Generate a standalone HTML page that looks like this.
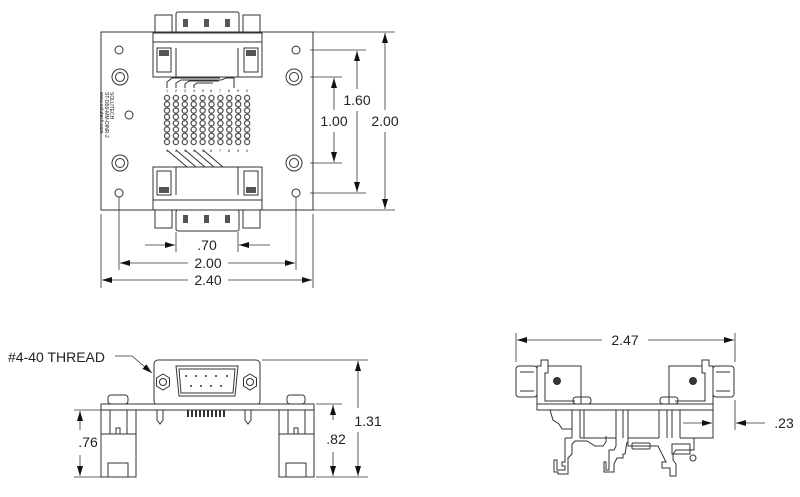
<!DOCTYPE html>
<html><head><meta charset="utf-8"><style>
html,body{margin:0;padding:0;background:#fff}
svg{display:block}
text{font-family:"Liberation Sans",sans-serif;fill:#222}
</style></head><body>
<svg width="800" height="497" viewBox="0 0 800 497" xmlns="http://www.w3.org/2000/svg">
<defs>
<marker id="a" viewBox="0 0 10 6" refX="10" refY="3" markerWidth="10" markerHeight="6" orient="auto-start-reverse" markerUnits="userSpaceOnUse"><path d="M0,0L10,3L0,6z" fill="#111"/></marker>
</defs>
<g fill="none" stroke="#333" stroke-width="1">
<!-- TOP VIEW -->
<rect x="101" y="32" width="212" height="178" fill="#fff"/>
<rect x="176" y="12" width="63" height="21" rx="2"/>
<rect x="155" y="15" width="17" height="18"/><rect x="243" y="15" width="17" height="18"/>
<rect x="153" y="33" width="109" height="44" fill="#fff"/>
<line x1="153" y1="42" x2="262" y2="42"/>
<rect x="157" y="48" width="14" height="24"/><rect x="244" y="48" width="14" height="24"/>
<line x1="176" y1="48" x2="176" y2="77"/><line x1="238" y1="48" x2="238" y2="77"/>
<rect x="176" y="210" width="63" height="21" rx="2"/>
<rect x="155" y="210" width="17" height="18"/><rect x="243" y="210" width="17" height="18"/>
<rect x="153" y="167" width="109" height="43" fill="#fff"/>
<line x1="153" y1="200" x2="262" y2="200"/>
<rect x="157" y="171" width="14" height="24"/><rect x="244" y="171" width="14" height="24"/>
<line x1="176" y1="167" x2="176" y2="195"/><line x1="238" y1="167" x2="238" y2="195"/>
<g fill="#555" stroke="none">
<rect x="183" y="19" width="5" height="8"/><rect x="204" y="19" width="5" height="8"/><rect x="225" y="19" width="5" height="8"/>
<rect x="183" y="215" width="5" height="8"/><rect x="204" y="215" width="5" height="8"/><rect x="225" y="215" width="5" height="8"/>
<rect x="159" y="50" width="10" height="6"/><rect x="246" y="50" width="10" height="6"/>
<rect x="159" y="187" width="10" height="6"/><rect x="246" y="187" width="10" height="6"/>
</g>
<circle cx="119" cy="50" r="4"/><circle cx="296" cy="50" r="4"/><circle cx="119" cy="193" r="4"/><circle cx="296" cy="193" r="4"/>
<circle cx="120" cy="77" r="8"/><circle cx="120" cy="77" r="4.5"/>
<circle cx="120" cy="163" r="8"/><circle cx="120" cy="163" r="4.5"/>
<circle cx="294" cy="77" r="8"/><circle cx="294" cy="77" r="4.5"/>
<circle cx="294" cy="163" r="8"/><circle cx="294" cy="163" r="4.5"/>
<path d="M167,88 v-6 l5,-4 h48 M176,88 v-5 l5,-3 h40 l5,-2 h8 v10 M185,88 v-4 l4,-3 h30 M194,88 v-3 l3,-2 h16"/>
<path d="M167,150 l20,17 M176,150 l20,17 M185,150 l20,17 M194,150 l20,17 M203,150 l20,17"/>
</g>
<g fill="#fff" stroke="#555" stroke-width="1.3">
<g id="col">
<circle cx="167" cy="98" r="2.6"/><circle cx="167" cy="104.3" r="2.6"/><circle cx="167" cy="110.6" r="2.6"/><circle cx="167" cy="116.9" r="2.6"/><circle cx="167" cy="123.2" r="2.6"/><circle cx="167" cy="129.5" r="2.6"/><circle cx="167" cy="135.8" r="2.6"/><circle cx="167" cy="142" r="2.6"/>
</g>
<use href="#col" x="8.9"/><use href="#col" x="17.8"/><use href="#col" x="26.7"/><use href="#col" x="35.6"/><use href="#col" x="44.5"/><use href="#col" x="53.4"/><use href="#col" x="62.3"/><use href="#col" x="71.2"/><use href="#col" x="80.1"/>
</g>
<g font-size="4" text-anchor="middle">
<text x="167" y="92">1</text><text x="176" y="92">2</text><text x="185" y="92">3</text><text x="194" y="92">4</text><text x="203" y="92">5</text><text x="211" y="92">6</text><text x="220" y="92">7</text><text x="229" y="92">8</text><text x="238" y="92">9</text><text x="247" y="92">0</text>
<text x="167" y="152">1</text><text x="176" y="152">2</text><text x="185" y="152">3</text><text x="194" y="152">4</text><text x="203" y="152">5</text><text x="211" y="152">6</text><text x="220" y="152">7</text><text x="229" y="152">8</text><text x="238" y="152">9</text><text x="247" y="152">0</text>
</g>
<text font-size="5" transform="translate(110,92) rotate(90)">SOLUTECH</text>
<text font-size="5" transform="translate(105,92) rotate(90)">ST-DB9-MM-DINR-2</text>
<text font-size="5" transform="translate(100,92) rotate(90)">www.solutech.com</text>
<circle cx="129" cy="115" r="4" fill="none" stroke="#333"/>
<!-- top dims -->
<g stroke="#333" stroke-width="0.8" fill="none">
<path d="M303,32H395M310,50H366M310,77H342M303,210H395M310,193H366M310,163H342"/>
<path d="M101,214V288M313,214V288M119,197V270M296,197V270M176,232V252M238,232V252"/>
<line x1="385" y1="110" x2="385" y2="33" marker-end="url(#a)"/><line x1="385" y1="132" x2="385" y2="209" marker-end="url(#a)"/>
<line x1="357" y1="89" x2="357" y2="51" marker-end="url(#a)"/><line x1="357" y1="111" x2="357" y2="192" marker-end="url(#a)"/>
<line x1="334" y1="110" x2="334" y2="78" marker-end="url(#a)"/><line x1="334" y1="132" x2="334" y2="162" marker-end="url(#a)"/>
<line x1="145" y1="245" x2="175" y2="245" marker-end="url(#a)"/><line x1="270" y1="245" x2="239" y2="245" marker-end="url(#a)"/>
<line x1="188" y1="263" x2="120" y2="263" marker-end="url(#a)"/><line x1="228" y1="263" x2="295" y2="263" marker-end="url(#a)"/>
<line x1="188" y1="280" x2="102" y2="280" marker-end="url(#a)"/><line x1="228" y1="280" x2="312" y2="280" marker-end="url(#a)"/>
</g>
<g font-size="14" text-anchor="middle">
<text x="385" y="126">2.00</text><text x="357" y="105">1.60</text><text x="334" y="126">1.00</text>
<text x="207" y="250">.70</text><text x="208" y="268">2.00</text><text x="208" y="285">2.40</text>
</g>
<!-- FRONT VIEW -->
<g fill="none" stroke="#333" stroke-width="1">
<rect x="154" y="360" width="106" height="45" rx="4" fill="#fff"/>
<path d="M176,366h62l-3,30h-56z"/><path d="M179,369h56l-2,24h-52z"/>
<polygon points="163,374 169.5,378 169.5,386 163,390 156.5,386 156.5,378"/><circle cx="163" cy="382" r="3.5"/>
<polygon points="250,374 256.5,378 256.5,386 250,390 243.5,386 243.5,378"/><circle cx="250" cy="382" r="3.5"/>
<rect x="101" y="404" width="213" height="6" fill="#fff"/>
<rect x="108" y="395" width="20" height="9" rx="3"/><rect x="287" y="395" width="18" height="9" rx="3"/>
<rect x="101" y="410" width="35" height="67"/><rect x="279" y="410" width="35" height="67"/>
<path d="M101,434h35M279,434h35M110,410v24M127,410v24M288,410v24M305,410v24"/>
<rect x="108" y="463" width="20" height="14"/><rect x="286" y="463" width="20" height="14"/>
<rect x="116" y="428" width="4" height="6"/><rect x="294" y="428" width="4" height="6"/>
<path d="M157,410v10l3,4l3,-4v-10M163,410v10M245,410v10l3,4l3,-4v-10"/>
</g>
<g fill="#333">
<circle cx="186" cy="376" r="1"/><circle cx="196" cy="376" r="1"/><circle cx="206" cy="376" r="1"/><circle cx="216" cy="376" r="1"/><circle cx="227" cy="376" r="1"/>
<circle cx="191" cy="386" r="1"/><circle cx="201" cy="386" r="1"/><circle cx="211" cy="386" r="1"/><circle cx="221" cy="386" r="1"/>
<rect x="187" y="410" width="2" height="7"/><rect x="191" y="410" width="2" height="7"/><rect x="195" y="410" width="2" height="7"/><rect x="199" y="410" width="2" height="7"/><rect x="203" y="410" width="2" height="7"/><rect x="207" y="410" width="2" height="7"/><rect x="211" y="410" width="2" height="7"/><rect x="215" y="410" width="2" height="7"/><rect x="219" y="410" width="2" height="7"/><rect x="223" y="410" width="2" height="7"/>
</g>
<text x="8" y="362" font-size="14">#4-40 THREAD</text>
<g stroke="#333" stroke-width="0.8" fill="none">
<polyline points="115,356 132,356 152,373" marker-end="url(#a)"/>
<path d="M262,360H368M316,404H342M316,477H368M74,410H101M74,477H101"/>
<line x1="80" y1="430" x2="80" y2="411" marker-end="url(#a)"/><line x1="80" y1="455" x2="80" y2="476" marker-end="url(#a)"/>
<line x1="333" y1="420" x2="333" y2="405" marker-end="url(#a)"/><line x1="333" y1="452" x2="333" y2="476" marker-end="url(#a)"/>
<line x1="358" y1="408" x2="358" y2="361" marker-end="url(#a)"/><line x1="358" y1="432" x2="358" y2="476" marker-end="url(#a)"/>
</g>
<g font-size="14" text-anchor="middle"><text x="88" y="447">.76</text><text x="336" y="444">.82</text><text x="368" y="426">1.31</text></g>
<!-- SIDE VIEW -->
<g fill="none" stroke="#333" stroke-width="1">
<rect x="537" y="404" width="176" height="6" fill="#fff"/>
<rect x="516" y="366" width="21" height="31" rx="3"/><rect x="713" y="366" width="21" height="31" rx="3"/>
<path d="M520,372h14M520,391h14M716,372h14M716,391h14"/>
<path d="M537,404V366h4v-6h7v6h33v38M548,366v7h-3v28h30"/>
<path d="M713,404V366h-4v-6h-7v6h-33v38M702,366v7h3v28h-30"/>
<rect x="573" y="397" width="18" height="7" rx="3"/><rect x="660" y="397" width="18" height="7" rx="3"/>
<!-- DIN clip upper body -->
<path d="M550,410l3,10l6,4l3,5h10v-19"/>
<path d="M572,410v28M580,410v28M584,410v28M616,410v28M623,410v28M628,410v28M659,410v28M667,410v28M672,410v28M680,410v28M713,410v28h-33"/>
<path d="M565,438h7M580,438h36M628,438h31"/>
<!-- lower legs -->
<path d="M565,438v24h-3v4h3v4h-8v-10h-3v12h4v2h10v-16l4,-4v-10l3,-3h12l8,5h8l3,-4v-6"/>
<path d="M616,438v8l-2,4h-5v20h-3v-8h-2v10h10v-8l3,-6h6v-4h2l2,-12"/>
<path d="M628,438v8h30l8,16h-4v6h8v8h6v-12l-3,-4v-6l3,-4h18v-12"/>
<rect x="632" y="443" width="18" height="6" rx="1"/>
<path d="M672,444h18v10h-18z"/>
<circle cx="693" cy="458" r="3"/>
</g>
<g fill="#333"><circle cx="557" cy="381" r="4"/><circle cx="693" cy="381" r="4"/></g>
<g stroke="#333" stroke-width="0.8" fill="none">
<path d="M516,333V362M735,333V362M735,400V430M713,415V430"/>
<line x1="602" y1="340" x2="517" y2="340" marker-end="url(#a)"/><line x1="648" y1="340" x2="734" y2="340" marker-end="url(#a)"/>
<line x1="683" y1="423" x2="712" y2="423" marker-end="url(#a)"/><line x1="765" y1="423" x2="736" y2="423" marker-end="url(#a)"/>
</g>
<g font-size="14" text-anchor="middle"><text x="625" y="345">2.47</text><text x="784" y="428">.23</text></g>
</svg>
</body></html>
